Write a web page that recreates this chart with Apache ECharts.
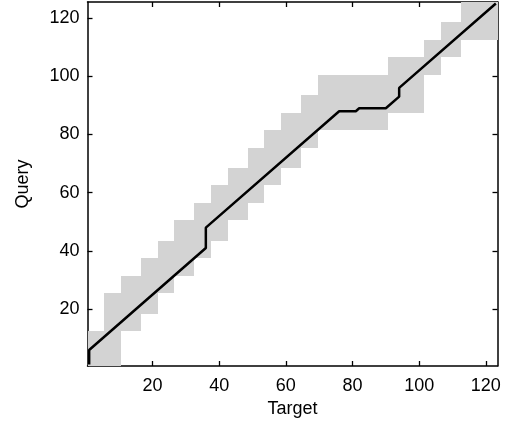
<!DOCTYPE html>
<html>
<head>
<meta charset="utf-8">
<script src="https://cdn.jsdelivr.net/npm/echarts@6/dist/echarts.min.js"></script>
<style>
html,body{margin:0;padding:0;background:#fff;}
#chart{width:511px;height:427px;}
</style>
</head>
<body>
<div id="chart"></div>
<script>
// Tick labels
const xTicks = [20, 40, 60, 80, 100, 120];
const yTicks = [20, 40, 60, 80, 100, 120];
// Block (cell group) edges of the search window
const xEdges = [0.5, 5.5, 10.5, 16.5, 21.5, 26.5, 32.5, 37.5, 42.5, 48.5, 53.5, 58.5, 64.5, 69.5, 74.5, 80.5, 85.5, 90.5, 96.5, 101.5, 106.5, 112.5, 117.5, 123.5];
const yEdges = [0.5, 6.5, 12.5, 18.5, 25.5, 31.5, 37.5, 43.5, 50.5, 56.5, 62.5, 68.5, 75.5, 81.5, 87.5, 93.5, 100.5, 106.5, 112.5, 118.5, 125.5];
// For each target block: lowest and highest query block in the window
const bandLo = [0, 0, 2, 3, 4, 5, 6, 7, 8, 9, 10, 11, 12, 13, 13, 13, 13, 14, 14, 16, 17, 18, 18];
const bandHi = [1, 3, 4, 5, 6, 7, 8, 9, 10, 11, 12, 13, 14, 15, 15, 15, 15, 16, 16, 17, 18, 19, 19];
// Warping path vertices
const pathTarget = [1, 1, 36, 36, 76, 81, 82, 90, 94, 94, 123];
const pathQuery  = [1, 6, 41, 48, 88, 88, 89, 89, 93, 96, 125];

const xMin = xEdges[0], xMax = xEdges[xEdges.length - 1];
const yMin = yEdges[0], yMax = yEdges[yEdges.length - 1];

const bandData = bandLo.map((lo, i) => [xEdges[i], xEdges[i + 1], yEdges[lo], yEdges[bandHi[i] + 1]]);
const pathData = pathTarget.map((t, i) => [t, pathQuery[i]]);

const FONT = '"Liberation Sans", Arial, Helvetica, sans-serif';
const chart = echarts.init(document.getElementById('chart'), null, {renderer: 'canvas'});

const tickStyle = {show: true, inside: true, length: 5, lineStyle: {color: '#000', width: 1.3}};
const lineStyle = {show: true, lineStyle: {color: '#000', width: 1.5}};

chart.setOption({
  animation: false,
  backgroundColor: '#fff',
  grid: {left: 87.5, top: 2, width: 410, height: 364, containLabel: false},
  xAxis: [{
    type: 'value', min: xMin, max: xMax, position: 'bottom',
    name: 'Target', nameLocation: 'middle', nameGap: 34,
    nameTextStyle: {color: '#000', fontSize: 18, fontFamily: FONT},
    axisLine: lineStyle,
    axisTick: Object.assign({customValues: xTicks}, tickStyle),
    axisLabel: {customValues: xTicks, color: '#000', fontSize: 18, fontFamily: FONT, margin: 11},
    splitLine: {show: false}
  }, {
    type: 'value', min: xMin, max: xMax, position: 'top',
    axisLine: lineStyle,
    axisTick: Object.assign({customValues: xTicks}, tickStyle),
    axisLabel: {show: false},
    splitLine: {show: false}
  }],
  yAxis: [{
    type: 'value', min: yMin, max: yMax, position: 'left',
    name: 'Query', nameLocation: 'middle', nameGap: 55, nameRotate: 90,
    nameTextStyle: {color: '#000', fontSize: 18, fontFamily: FONT},
    axisLine: lineStyle,
    axisTick: Object.assign({customValues: yTicks}, tickStyle),
    axisLabel: {customValues: yTicks, color: '#000', fontSize: 18, fontFamily: FONT, margin: 8},
    splitLine: {show: false}
  }, {
    type: 'value', min: yMin, max: yMax, position: 'right',
    axisLine: lineStyle,
    axisTick: Object.assign({customValues: yTicks}, tickStyle),
    axisLabel: {show: false},
    splitLine: {show: false}
  }],
  series: [{
    type: 'custom',
    xAxisIndex: 0, yAxisIndex: 0,
    clip: true,
    encode: {x: [0, 1], y: [2, 3]},
    data: bandData,
    renderItem: function (params, api) {
      const p0 = api.coord([api.value(0), api.value(2)]);
      const p1 = api.coord([api.value(1), api.value(3)]);
      const x0 = Math.round(p0[0]), x1 = Math.round(p1[0]);
      const yb = Math.round(p0[1]), yt = Math.round(p1[1]);
      return {
        type: 'rect',
        shape: {x: x0, y: yt, width: x1 - x0, height: yb - yt},
        style: {fill: '#d3d3d3'}
      };
    },
    z: 1
  }, {
    type: 'line',
    xAxisIndex: 0, yAxisIndex: 0,
    data: pathData,
    symbol: 'none',
    lineStyle: {color: '#000', width: 2.5},
    z: 3
  }]
});
</script>
</body>
</html>
